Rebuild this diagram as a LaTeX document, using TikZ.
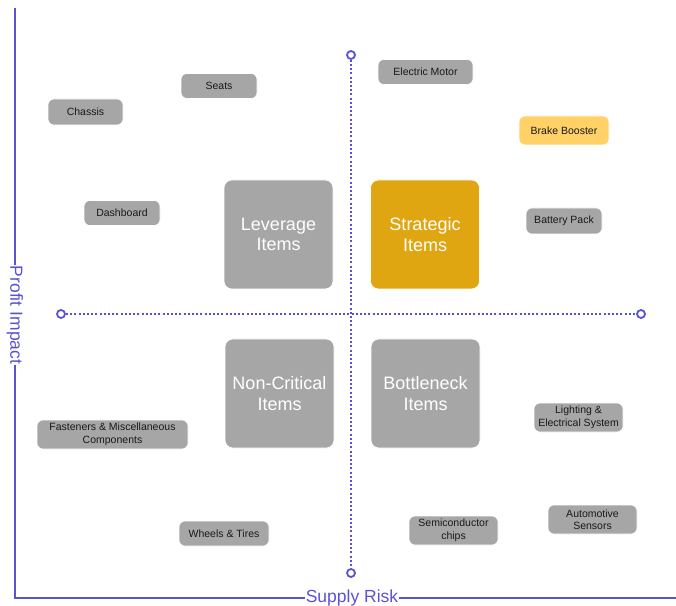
\documentclass[tikz,border=0pt]{standalone}
\usepackage{fontspec}
\setmainfont{Liberation Sans}
\usepackage{tikz}

\definecolor{axisblue}{HTML}{5A52D5}
\definecolor{itemgray}{HTML}{A6A6A6}
\definecolor{strategic}{HTML}{E0A612}
\definecolor{highlight}{HTML}{FFD166}

\begin{document}
\begin{tikzpicture}[x=1pt, y=1pt,
                axis line/.style={draw=axisblue, line width=1.4pt},
                axis label/.style={text=axisblue, inner sep=1pt, font=\fontsize{17.5}{19}\selectfont},
                divider/.style={draw=axisblue, line width=2pt, dash pattern=on 2pt off 2.2pt},
                end dot/.style={circle, draw=axisblue, line width=1.8pt, fill=white, minimum size=8pt, inner sep=0pt},
                quadrant/.style={rounded corners=8pt, fill=itemgray, draw=white, line width=0.6pt,
                    minimum width=109pt, minimum height=109pt, text=white, align=center,
                    font=\fontsize{18}{20.5}\selectfont},
                item/.style={rounded corners=6pt, fill=itemgray, draw=white, line width=0.6pt,
                    text=black!90, align=center, inner sep=0pt, font=\fontsize{10.5}{12.5}\selectfont}]

            \useasboundingbox (0,0) rectangle (676,605);

            % Axes
            \coordinate (origin) at (15,7);
            \coordinate (ytop) at (15,597);
            \coordinate (xend) at (676,7);
            \node[axis label, rotate=-90] (profit) at (15,290) {Profit Impact};
            \node[axis label] (risk) at (352,7) {Supply Risk};
            \draw[axis line] (ytop) -- (profit.west);
            \draw[axis line] (profit.east) -- (origin) -- (risk.west);
            \draw[axis line] (risk.east) -- (xend);

            % Quadrant dividers
            \node[end dot] (left) at (61,291) {};
            \node[end dot] (right) at (641,291) {};
            \node[end dot] (top) at (351,550) {};
            \node[end dot] (bottom) at (351,32) {};
            \path[divider] (left) -- (right);
            \path[divider] (top) -- (bottom);

            % Quadrants
            \node[quadrant] (leverage) at (278.5,370.5) {Leverage\\Items};
            \node[quadrant, fill=strategic] (strat) at (425,370.5) {Strategic\\Items};
            \node[quadrant] (noncrit) at (279.5,211.5) {Non-Critical\\Items};
            \node[quadrant] (bottleneck) at (425.5,211.5) {Bottleneck\\Items};

            % Items
            \node[item, minimum width=76pt, minimum height=25pt] (seats) at (219,519) {Seats};
            \node[item, minimum width=75pt, minimum height=26pt] (chassis) at (85.5,493) {Chassis};
            \node[item, minimum width=76pt, minimum height=25pt] (dash) at (122,392) {Dashboard};
            \node[item, minimum width=95pt, minimum height=25pt] (motor) at (425.5,533) {Electric Motor};
            \node[item, fill=highlight, minimum width=90pt, minimum height=29pt] (brake) at (564,474.5) {Brake Booster};
            \node[item, minimum width=76pt, minimum height=26pt] (battery) at (564,384) {Battery Pack};
            \node[item, minimum width=151pt, minimum height=29pt] (fasteners) at (112.5,170.5) {Fasteners \& Miscellaneous\\Components};
            \node[item, minimum width=90pt, minimum height=25pt] (wheels) at (224,71.5) {Wheels \& Tires};
            \node[item, minimum width=89pt, minimum height=29pt] (lighting) at (578.5,187.5) {Lighting \&\\Electrical System};
            \node[item, minimum width=89pt, minimum height=29pt] (chips) at (453.5,74.5) {Semiconductor\\chips};
            \node[item, minimum width=89pt, minimum height=29pt] (sensors) at (592.5,85.5) {Automotive\\Sensors};

        \end{tikzpicture}
\end{document}
